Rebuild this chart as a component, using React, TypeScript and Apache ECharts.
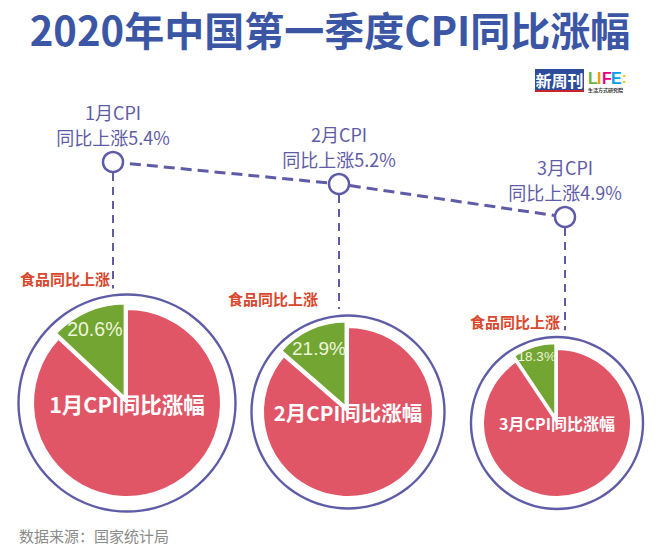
import React, { useEffect, useRef } from 'react';
import * as echarts from 'echarts';

// ---- data ----
const months = ['1月', '2月', '3月'];
const cpiYoY = [5.4, 5.2, 4.9];
const foodYoY = [20.6, 21.9, 18.3];
// wedge size as drawn in the infographic (share of the circle, %)
const foodWedgeShare = [13.0, 13.6, 9.4];
const titleText = '2020年中国第一季度CPI同比涨幅';
const sourceText = '数据来源：国家统计局';
const foodTag = '食品同比上涨';

// ---- layout ----
const pieCenters = [[127, 403], [348, 412], [557, 423]];
const pieRadii = [94, 85, 74];
const ringRadii = [108.5, 96.5, 86];
const centerLabelDy = [33, 23, 22];
const centerLabelSize = [21.5, 20.5, 16];
const pctLabelSize = [19.5, 19, 13.5];
const pctLabelInner = [0.66, 0.58, 0.8];
const foodTagPos = [[110, 286], [318, 306], [560, 329]];

const FONT = '"Noto Sans CJK SC", "Noto Sans", sans-serif';
const C_TITLE = '#3b56a5';
const C_LINE = '#5f5ca7';
const C_RED = '#e05667';
const C_GREEN = '#72a532';
const C_TAG = '#d8472c';

export default function App() {
  const ref = useRef<HTMLDivElement>(null);
  useEffect(() => {
    if (!ref.current) return;
    const chart = echarts.init(ref.current, null, { renderer: 'svg' });
    const series: any[] = [
      {
        type: 'line',
        data: cpiYoY,
        symbol: 'circle',
        symbolSize: 20,
        z: 5,
        itemStyle: { color: '#fff', borderColor: C_LINE, borderWidth: 2.5 },
        lineStyle: { color: C_LINE, width: 3, type: [11, 6] },
        emphasis: { disabled: true },
        label: { show: false },
      },
    ];
    months.forEach((m, i) => {
      const share = foodWedgeShare[i];
      series.push({
        type: 'pie',
        silent: true,
        z: 1,
        center: pieCenters[i],
        radius: [ringRadii[i] - 1.2, ringRadii[i] + 1.2],
        label: { show: false },
        labelLine: { show: false },
        emphasis: { disabled: true },
        data: [{ value: 1, itemStyle: { color: C_LINE } }],
      });
      series.push({
        type: 'pie',
        silent: true,
        z: 2,
        center: pieCenters[i],
        radius: pieRadii[i],
        startAngle: 90,
        clockwise: true,
        selectedMode: 'single',
        selectedOffset: 6,
        emphasis: { disabled: true },
        itemStyle: { borderColor: '#fff', borderWidth: 2 },
        labelLine: { show: false },
        data: [
          {
            name: `${m}CPI同比涨幅`,
            value: 100 - share,
            itemStyle: { color: C_RED },
            label: {
              show: true,
              position: 'center',
              formatter: '{b}',
              color: '#fff',
              fontFamily: FONT,
              fontWeight: 'bold',
              fontSize: centerLabelSize[i],
              padding: [2 * centerLabelDy[i], 0, 0, 0],
            },
          },
          {
            name: foodTag,
            value: share,
            selected: true,
            itemStyle: { color: C_GREEN },
            label: { show: false },
          },
        ],
      });
      series.push({
        type: 'pie',
        silent: true,
        z: 3,
        center: pieCenters[i],
        radius: [pctLabelInner[i] * pieRadii[i], pieRadii[i]],
        startAngle: 90,
        clockwise: true,
        emphasis: { disabled: true },
        itemStyle: { color: 'rgba(0,0,0,0)' },
        labelLine: { show: false },
        data: [
          { name: 'rest', value: 100 - share, label: { show: false } },
          {
            name: 'food',
            value: share,
            label: {
              show: true,
              position: 'inside',
              formatter: `${foodYoY[i]}%`,
              color: '#eef6dc',
              fontFamily: '"Liberation Sans", Arial, sans-serif',
              fontSize: pctLabelSize[i],
            },
          },
        ],
      });
    });

    chart.setOption({
      animation: false,
      backgroundColor: '#fff',
      grid: { left: 113, right: 95, top: 96, height: 220 },
      xAxis: { type: 'category', data: months, boundaryGap: false, show: false },
      yAxis: { type: 'value', min: 4, max: 6, show: false },
      series,
    });

    const graphics: any[] = [
      {
        type: 'text',
        left: 'center',
        top: 9,
        style: { text: titleText, font: `bold 40px ${FONT}`, fill: C_TITLE },
      },
      {
        type: 'text',
        left: 19,
        top: 528,
        style: { text: sourceText, font: `15px ${FONT}`, fill: '#8a8a8a' },
      },
      {
        type: 'group',
        x: 535,
        y: 69,
        children: [
          { type: 'rect', shape: { x: 0, y: 0, width: 49, height: 21 }, style: { fill: '#2d4c9c' } },
          { type: 'rect', shape: { x: 0, y: 21, width: 49, height: 2 }, style: { fill: '#c9242c' } },
          {
            type: 'text', x: 24.5, y: 11,
            style: { text: '新周刊', fill: '#fff', font: `bold 16px ${FONT}`, textAlign: 'center', textVerticalAlign: 'middle' },
          },
          { type: 'text', x: 53, y: 1, style: { text: 'L', fill: '#6cb33f', font: 'bold 16px "Liberation Sans", sans-serif' } },
          { type: 'text', x: 62, y: 1, style: { text: 'I', fill: '#f39800', font: 'bold 16px "Liberation Sans", sans-serif' } },
          { type: 'text', x: 67, y: 1, style: { text: 'F', fill: '#e4007f', font: 'bold 16px "Liberation Sans", sans-serif' } },
          { type: 'text', x: 76, y: 1, style: { text: 'E', fill: '#00a0e9', font: 'bold 16px "Liberation Sans", sans-serif' } },
          { type: 'text', x: 87, y: 2, style: { text: ':', fill: '#f2c200', font: 'bold 14px "Liberation Sans", sans-serif' } },
          { type: 'text', x: 53, y: 18, style: { text: '生活方式研究院', fill: '#333', font: `bold 5px ${FONT}` } },
        ],
      },
    ];

    cpiYoY.forEach((v, i) => {
      const [px, py] = chart.convertToPixel({ xAxisIndex: 0, yAxisIndex: 0 }, [i, v]) as number[];
      const [cx, cy] = pieCenters[i];
      const R = ringRadii[i];
      const dx = px - cx;
      const ringTop = cy - Math.sqrt(Math.max(R * R - dx * dx, 0));
      graphics.push({
        type: 'line',
        z: 0,
        shape: { x1: px, y1: py + 11, x2: px, y2: ringTop - 7 },
        style: { stroke: C_LINE, lineWidth: 2, lineDash: [8, 6] },
      });
      graphics.push({
        type: 'text',
        x: px,
        y: py - 50,
        style: {
          text: `${months[i]}CPI`,
          fill: C_LINE,
          font: `18px ${FONT}`,
          textAlign: 'center',
          textVerticalAlign: 'middle',
        },
      });
      graphics.push({
        type: 'text',
        x: px,
        y: py - 25,
        style: {
          text: `同比上涨${v}%`,
          fill: C_LINE,
          font: `18px ${FONT}`,
          textAlign: 'center',
          textVerticalAlign: 'middle',
        },
      });
      graphics.push({
        type: 'text',
        x: foodTagPos[i][0],
        y: foodTagPos[i][1],
        style: {
          text: foodTag,
          fill: C_TAG,
          font: `bold 15px ${FONT}`,
          textAlign: 'right',
          textVerticalAlign: 'bottom',
        },
      });
    });

    chart.setOption({ graphic: graphics });
    return () => chart.dispose();
  }, []);
  return (
    <div
      ref={ref}
      style={{ position: 'fixed', left: 0, top: 0, width: 660, height: 552, background: '#fff' }}
    />
  );
}
